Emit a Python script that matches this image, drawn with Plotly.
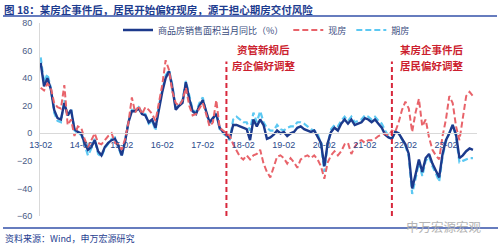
import plotly.graph_objects as go

# months 2013-02 .. 2023-10
def month_labels(start_y=2013, start_m=2, n=129):
    out = []
    y, m = start_y, start_m
    for _ in range(n):
        out.append(f"{y % 100:02d}-{m:02d}")
        m += 1
        if m > 12:
            m = 1
            y += 1
    return out

months = month_labels()

total_yoy = [51, 34, 40, 32, 17, 11, 10, 22, 13, 17, 3, 1, 0, -7, -12, -10, -5, -13, -16, -10,
             -7, -5, -4, -9, -16, -6, 8, 16,
             16, 18, 14, 13, 8, 10, 4, 18, 30, 40, 45, 33, 17, 20, 22, 37, 25, 16, 14, 20, 24, 16,
             8, 11, 14, 4, 1, -1, -4,
             6, 6, 5, 4, 3, -5, 10, 5, 10, 6, -4, -3, -1, 2, 0, 1, -2, 0, 1, 4, 5, 3, 2, 1, 2, -2, -7, -24,
             -7, 1, 4, 2, 7, 10, 7, 10, 6, 7, 8, 11, 10, 8, 10, 7, 4, -1, -3, -4,
             1, 0, -4, -8, -15, -40, -30, -19, -28, -18, -15, -22, -27, -32, -15, -5, 0, 6, -1, -18,
             -16, -13, -11, -12]

existing_yoy = [33, 31, 36, 33, 22, 19, 18, 35, 6, 10, -2, 5, 4, -4, -10, -5, 0, -7, -8, -5,
                -2, 0, -7, -8, -12, -4, 8, 26,
                15, 20, 14, 19, 17, 14, 9, 22, 35, 53, 46, 30, 22, 20, 24, 33, 20, 13, 14, 18, 22, 14,
                5, 8, 24, 4, 2, 0, -2,
                -8, -13, -17, -19, -16, -19, -16, -15, -12, -22, -28, -32, -24, -17, -16, -18, -22, -18,
                -21, -25, -19, -17, -16, -18, -16, -19, -24, -33,
                -21, -16, -13, -16, -13, -8, -7, -15, -10, -6, -5, -7, -5, -5, -4, -2, -1, 0, -2, 2,
                1, 8, 17, 23, 18, 1, 15, 25, 5, 10, -3, -12, -16, -19, -2, 10, 27, 22, 5, -5,
                11, 27, 30, 27]

presale_yoy = [55, 37, 43, 33, 15, 9, 8, 24, 12, 18, 2, 0, -1, -8, -16, -11, -4, -15, -17, -11,
               -7, -4, -3, -10, -17, -5, 9, 17,
               17, 19, 15, 14, 7, 9, 2, 20, 32, 42, 46, 35, 18, 21, 24, 38, 27, 17, 15, 22, 26, 15,
               7, 10, 15, 3, 0, -2, -5,
               10, 12, 10, 8, 8, 2, 15, 8, 16, 8, 4, 2, 2, 6, 3, 2, 4, 5, 5, 8, 8, 7, 5, 3, 2, 0, -8, -28,
               -8, 3, 6, 5, 9, 12, 9, 12, 8, 9, 10, 13, 12, 10, 12, 9, 7, 2, -2, -4,
               1, 0, -5, -9, -17, -44, -33, -21, -31, -20, -17, -24, -29, -35, -17, -6, 0, 6, -3, -21,
               -20, -19, -18, -18]

tick_labels = ["13-02", "14-02", "15-02", "16-02", "17-02", "18-02", "19-02", "20-02", "21-02", "22-02", "23-02"]
y_ticks = [-60, -40, -20, 0, 20, 40, 60, 80]

event_months = ["17-09", "21-10"]
event_notes = [["资管新规后", "房企偏好调整"], ["某房企事件后", "居民偏好调整"]]
note_months = ["18-08", "22-10"]

names = ["商品房销售面积当月同比（%）", "现房", "期房"]

NAVY = "#1c3a8c"
RED = "#e8636a"
CYAN = "#5cc8f2"
VRED = "#d8283c"
TXT = "#3b4d80"

idx = {m: i for i, m in enumerate(months)}
xs = list(range(len(months)))

fig = go.Figure()
fig.add_trace(go.Scatter(x=xs, y=presale_yoy, name=names[2], mode="lines",
                         line=dict(color=CYAN, width=2.2, dash="6px,3px"), legendrank=3))
fig.add_trace(go.Scatter(x=xs, y=total_yoy, name=names[0], mode="lines",
                         line=dict(color=NAVY, width=2.4), legendrank=1))
fig.add_trace(go.Scatter(x=xs, y=existing_yoy, name=names[1], mode="lines",
                         line=dict(color=RED, width=2, dash="6px,3px"), legendrank=2))

for em in event_months:
    fig.add_shape(type="line", x0=idx[em], x1=idx[em], y0=-60, y1=52, xref="x", yref="y",
                  line=dict(color=VRED, width=2, dash="5px,3px"), layer="above")

for nm, lines in zip(note_months, event_notes):
    for j, t in enumerate(lines):
        fig.add_annotation(x=idx[nm], y=61 - j * 12, xref="x", yref="y", text="<b>" + t + "</b>",
                           showarrow=False,
                           font=dict(size=10.5, color="#cc1f2f", family="Noto Sans CJK SC"),
                           xanchor="center", yanchor="middle")

PW, PH = 437, 193
fig.add_annotation(xref="paper", yref="paper", x=-38/PW, y=1 + 13/PH, xanchor="left", yanchor="middle",
                   text="<b>图 18：某房企事件后，居民开始偏好现房，源于担心期房交付风险</b>", showarrow=False,
                   font=dict(size=10.5, color="#1d3c8f", family="Noto Sans CJK SC"))
fig.add_shape(type="line", xref="paper", yref="paper", x0=-37/PW, x1=457/PW,
              y0=1 + 7/PH, y1=1 + 7/PH, line=dict(color="#3350a8", width=1.5))
fig.add_shape(type="line", xref="paper", yref="paper", x0=-37/PW, x1=458/PW,
              y0=-12/PH, y1=-12/PH, line=dict(color="#3350a8", width=1.5))
fig.add_annotation(xref="paper", yref="paper", x=-37/PW, y=-22/PH, xanchor="left", yanchor="middle",
                   text="资料来源：Wind，申万宏源研究", showarrow=False,
                   font=dict(size=9, color="#1d3c8f", family="Noto Sans CJK SC"))
fig.add_annotation(xref="paper", yref="paper", x=444/PW, y=-10/PH, xanchor="right", yanchor="middle",
                   text="申万宏源宏观", showarrow=False,
                   font=dict(size=12.5, color="#b4b4b4", family="Noto Sans CJK SC"))

fig.update_layout(
    width=500, height=248,
    margin=dict(l=40, r=23, t=23, b=32),
    paper_bgcolor="white", plot_bgcolor="white",
    font=dict(family="Liberation Sans, Arial", size=9, color=TXT),
    showlegend=True,
    legend=dict(orientation="h", x=(118 - 40)/PW, y=1 - 7/PH,
                xanchor="left", yanchor="middle", itemwidth=30, font=dict(size=9, color=TXT,
                family="Noto Sans CJK SC"), bgcolor="rgba(0,0,0,0)", tracegroupgap=0),
    xaxis=dict(range=[-0.2, 129.2], anchor="free", position=60/140, showgrid=False,
               showline=True, linecolor="#d9d9d9", linewidth=1, zeroline=False,
               tickmode="array", tickvals=[idx[t] for t in tick_labels], ticktext=tick_labels,
               ticks="outside", ticklen=3, tickcolor="rgba(0,0,0,0)",
               tickfont=dict(size=9, color="#2b4a8c")),
    yaxis=dict(range=[-60, 80], tickvals=y_ticks, showgrid=False, zeroline=False,
               showline=True, linecolor="#d9d9d9", linewidth=1,
               ticks="outside", ticklen=5, tickcolor="rgba(0,0,0,0)",
               tickfont=dict(size=9, color="#4a5a85")),
)

fig.write_html("out.html")
